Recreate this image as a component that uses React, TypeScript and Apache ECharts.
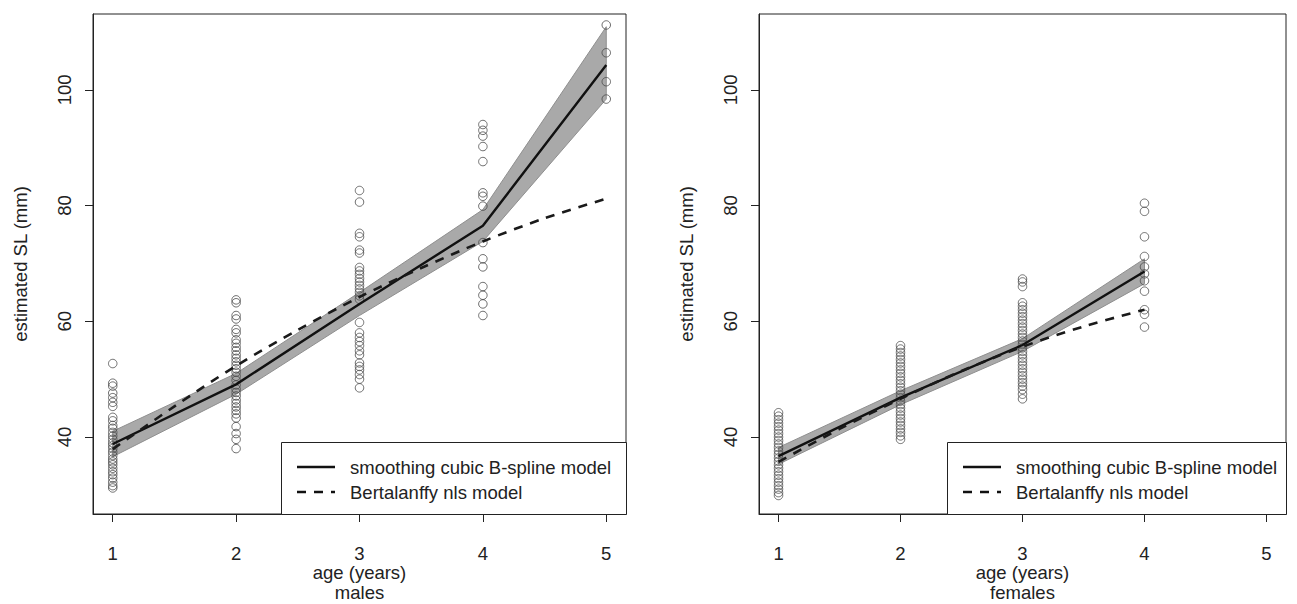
import React, { useEffect, useRef } from "react";
import * as echarts from "echarts";

const FONT = '"Liberation Sans", Arial, sans-serif';
const ageTicks = [1, 2, 3, 4, 5];
const yTicks = [40, 60, 80, 100];

// males: observed estimated SL by age
const maleAge1 = [52.7, 49.3, 48.8, 47.6, 46.8, 46.0, 45.3, 43.4, 42.8, 42.0, 41.5, 40.8, 40.2, 39.6, 39.0, 38.5, 38.0, 37.4, 36.8, 36.2, 35.7, 35.2, 34.6, 34.0, 33.5, 32.9, 32.2, 31.6, 31.2];
const maleAge2 = [63.7, 63.2, 61.0, 60.4, 58.6, 58.0, 56.8, 56.2, 55.5, 54.9, 54.2, 53.6, 53.0, 52.4, 51.8, 51.2, 50.5, 49.8, 49.0, 48.3, 47.7, 47.1, 46.4, 45.8, 45.2, 44.6, 44.0, 43.3, 41.8, 40.6, 39.6, 38.0];
const maleAge3 = [82.6, 80.6, 75.2, 74.6, 72.3, 71.8, 69.3, 68.7, 68.1, 67.4, 66.8, 66.2, 65.6, 65.0, 64.4, 63.8, 59.8, 58.0, 57.2, 56.5, 55.8, 54.9, 54.2, 52.8, 52.2, 51.6, 50.8, 50.0, 48.5];
const maleAge4 = [94.0, 93.0, 92.0, 90.2, 87.6, 82.2, 81.6, 79.9, 73.6, 70.8, 69.4, 66.0, 64.5, 63.0, 61.0];
const maleAge5 = [111.2, 106.4, 101.4, 98.4];

// males: B-spline fit with band, Bertalanffy curve
const maleFitAges = [1, 2, 3, 4, 5];
const maleFit = [38.8, 49.1, 63.0, 76.5, 104.3];
const maleLower = [36.6, 47.4, 61.0, 73.8, 98.4];
const maleUpper = [41.0, 51.0, 65.0, 79.3, 110.9];
const maleVbAges = [1, 1.5, 2, 2.5, 3, 3.5, 4, 4.5, 5];
const maleVb = [37.9, 45.3, 52.3, 58.5, 64.2, 69.2, 73.8, 77.8, 81.2];

// females: observed estimated SL by age
const femaleAge1 = [44.2, 43.6, 43.0, 42.4, 41.8, 41.2, 40.6, 40.0, 39.4, 38.8, 38.2, 37.6, 37.0, 36.4, 35.8, 35.2, 34.6, 34.0, 33.4, 32.8, 32.2, 31.6, 31.0, 30.4, 29.9];
const femaleAge2 = [55.8, 55.2, 54.6, 54.0, 53.4, 52.8, 52.2, 51.6, 51.0, 50.4, 49.8, 49.2, 48.6, 48.0, 47.4, 46.8, 46.2, 45.6, 45.0, 44.4, 43.8, 43.2, 42.6, 42.0, 41.4, 40.8, 40.2, 39.6];
const femaleAge3 = [67.3, 66.8, 66.0, 63.2, 62.6, 62.0, 61.4, 60.8, 60.2, 59.6, 59.0, 58.4, 57.8, 57.2, 56.6, 56.0, 55.4, 54.8, 54.2, 53.6, 53.0, 52.4, 51.8, 51.2, 50.6, 50.0, 49.4, 48.8, 48.2, 47.4, 46.6];
const femaleAge4 = [80.4, 79.0, 74.6, 71.2, 69.4, 68.2, 67.0, 65.2, 62.0, 61.2, 59.0];

const femaleFitAges = [1, 2, 3, 4];
const femaleFit = [36.7, 46.8, 55.9, 68.6];
const femaleLower = [35.3, 45.6, 54.8, 66.5];
const femaleUpper = [38.2, 48.0, 57.0, 70.8];
const femaleVbAges = [1, 1.5, 2, 2.5, 3, 3.5, 4];
const femaleVb = [35.7, 41.4, 46.6, 51.4, 55.6, 59.1, 62.0];

const legendLabels = ["smoothing cubic B-spline model", "Bertalanffy nls model"];

const X_MIN = 0.84;
const X_MAX = 5.16;
const Y_MIN = 26.7;
const Y_MAX = 113.1;

const groupsToPoints = (groups: number[][]) => {
  const out: number[][] = [];
  groups.forEach((g, i) => g.forEach((v) => out.push([i + 1, v])));
  return out;
};

const pairs = (xs: number[], ys: number[]) => xs.map((x, i) => [x, ys[i]]);

const TXT = "#222";

function makeAxes(idx: number, sub: string) {
  const x = {
    gridIndex: idx,
    type: "value",
    min: X_MIN,
    max: X_MAX,
    axisLine: { show: true, lineStyle: { color: TXT, width: 1 } },
    axisTick: { show: true, length: 8, customValues: ageTicks, lineStyle: { color: TXT, width: 1 } },
    axisLabel: { customValues: ageTicks, margin: 30, fontSize: 18.5, color: TXT, fontFamily: FONT },
    splitLine: { show: false },
    name: "age (years)\n" + sub,
    nameLocation: "middle",
    nameGap: 48,
    nameMoveOverlap: false,
    nameTextStyle: { fontSize: 18.5, color: TXT, fontFamily: FONT, lineHeight: 20 },
  };
  // main y axis: box side, ticks and title
  const y = {
    gridIndex: idx,
    type: "value",
    position: "left",
    min: Y_MIN,
    max: Y_MAX,
    axisLine: { show: true, lineStyle: { color: TXT, width: 1 } },
    axisTick: { show: true, length: 8, customValues: yTicks, lineStyle: { color: TXT, width: 1 } },
    axisLabel: { show: false },
    splitLine: { show: false },
    name: "estimated SL (mm)",
    nameLocation: "middle",
    nameRotate: 90,
    nameGap: 63,
    nameMoveOverlap: false,
    nameTextStyle: { fontSize: 18.5, color: TXT, fontFamily: FONT },
  };
  // companion y axis carrying only the rotated tick labels
  const yLab = {
    gridIndex: idx,
    type: "value",
    position: "left",
    offset: -8,
    min: Y_MIN,
    max: Y_MAX,
    axisLine: { show: false },
    axisTick: { show: false },
    axisLabel: { customValues: yTicks, rotate: 90, margin: 37, verticalAlign: "middle", fontSize: 18.5, color: TXT, fontFamily: FONT },
    splitLine: { show: false },
  };
  return { x, y, yLab };
}

function bandSeries(idx: number, ages: number[], lower: number[], upper: number[]) {
  return {
    type: "custom",
    coordinateSystem: "cartesian2d",
    xAxisIndex: idx,
    yAxisIndex: idx,
    z: 1,
    silent: true,
    data: pairs(ages, upper),
    renderItem: (params: any, api: any) => {
      if (params.dataIndex !== 0) return null;
      const pts: number[][] = [];
      ages.forEach((a, i) => pts.push(api.coord([a, upper[i]])));
      for (let i = ages.length - 1; i >= 0; i--) pts.push(api.coord([ages[i], lower[i]]));
      return {
        type: "polygon",
        shape: { points: pts },
        style: { fill: "#a9a9a9", stroke: "#8f8f8f", lineWidth: 1 },
      };
    },
  };
}

function scatterSeries(idx: number, data: number[][]) {
  return {
    type: "scatter",
    xAxisIndex: idx,
    yAxisIndex: idx,
    z: 2,
    symbol: "circle",
    symbolSize: 8.5,
    itemStyle: { color: "rgba(0,0,0,0)", borderColor: "#4a4a4a", borderWidth: 1 },
    data,
  };
}

function lineSeries(idx: number, data: number[][], dashed: boolean) {
  return {
    type: "line",
    xAxisIndex: idx,
    yAxisIndex: idx,
    z: 3,
    showSymbol: false,
    symbol: "none",
    smooth: dashed ? 0.3 : false,
    lineStyle: dashed
      ? { color: "#1a1a1a", width: 2.6, type: [9, 8] }
      : { color: "#111", width: 2.4, type: "solid" },
    data,
  };
}

function legendGraphic(boxLeft: number, boxRight: number) {
  const top = 442;
  const bottom = 514;
  const lx = boxLeft + 16;
  const tx = boxLeft + 69;
  const y1 = 467;
  const y2 = 492;
  const font = `18.5px ${FONT}`;
  return [
    { type: "rect", z: 100, shape: { x: boxLeft + 0.5, y: top + 0.5, width: boxRight - boxLeft, height: bottom - top }, style: { fill: "#fff", stroke: TXT, lineWidth: 1 } },
    { type: "line", z: 101, shape: { x1: lx, y1: y1, x2: lx + 38, y2: y1 }, style: { stroke: "#111", lineWidth: 2.4 } },
    { type: "line", z: 101, shape: { x1: lx, y1: y2, x2: lx + 38, y2: y2 }, style: { stroke: "#111", lineWidth: 2.6, lineDash: [9, 8] } },
    { type: "text", z: 101, x: tx, y: y1, style: { text: legendLabels[0], font, fill: TXT, verticalAlign: "middle", align: "left" } },
    { type: "text", z: 101, x: tx, y: y2, style: { text: legendLabels[1], font, fill: TXT, verticalAlign: "middle", align: "left" } },
  ];
}

export default function App() {
  const ref = useRef<HTMLDivElement>(null);
  useEffect(() => {
    if (!ref.current) return;
    const chart = echarts.init(ref.current, undefined, { renderer: "svg" });
    const a0 = makeAxes(0, "males");
    const a1 = makeAxes(1, "females");
    const gridBase = { top: 14, height: 500, show: true, borderColor: TXT, borderWidth: 1, backgroundColor: "transparent", containLabel: false, outerBoundsMode: "none" };
    chart.setOption({
      animation: false,
      backgroundColor: "#fff",
      textStyle: { fontFamily: FONT },
      grid: [
        { ...gridBase, left: 93, width: 533 },
        { ...gridBase, left: 759, width: 527 },
      ],
      xAxis: [a0.x, a1.x],
      yAxis: [a0.y, a1.y, a0.yLab, a1.yLab],
      series: [
        bandSeries(0, maleFitAges, maleLower, maleUpper),
        scatterSeries(0, groupsToPoints([maleAge1, maleAge2, maleAge3, maleAge4, maleAge5])),
        lineSeries(0, pairs(maleFitAges, maleFit), false),
        lineSeries(0, pairs(maleVbAges, maleVb), true),
        bandSeries(1, femaleFitAges, femaleLower, femaleUpper),
        scatterSeries(1, groupsToPoints([femaleAge1, femaleAge2, femaleAge3, femaleAge4])),
        lineSeries(1, pairs(femaleFitAges, femaleFit), false),
        lineSeries(1, pairs(femaleVbAges, femaleVb), true),
      ],
      graphic: [...legendGraphic(281, 626), ...legendGraphic(947, 1286)],
    });
    return () => chart.dispose();
  }, []);
  return <div ref={ref} style={{ position: "absolute", left: 0, top: 0, width: 1297, height: 604 }} />;
}
